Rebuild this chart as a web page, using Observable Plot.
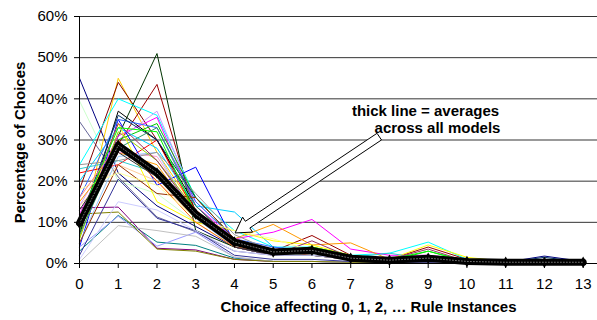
<!DOCTYPE html>
<html><head><meta charset="utf-8">
<script src="https://cdn.jsdelivr.net/npm/d3@7"></script>
<script src="https://cdn.jsdelivr.net/npm/@observablehq/plot@0.6"></script>
<style>html,body{margin:0;padding:0;background:#fff}svg{display:block}</style>
</head><body><div id="chart"></div>
<script>
const choices = [0, 1, 2, 3, 4, 5, 6, 7, 8, 9, 10, 11, 12, 13];
const percentTicks = [0, 10, 20, 30, 40, 50, 60];
const yLabel = "Percentage of Choices";
const xLabel = "Choice affecting 0, 1, 2, \u2026 Rule Instances";

// percentage of choices per model (thin lines)
const series01 = [45, 22, 14, 9, 4, 2, 2, 1, 0.5, 0.8, 0.3, 0.3, 1.8, 0.5];
const series02 = [39.5, 20, 17, 10, 4, 2.5, 2, 1, 0.5, 0.5, 0.3, 0.2, 0.2, 0.2];
const series03 = [34.5, 21, 11.3, 7.7, 3, 2, 2, 1, 0.5, 0.5, 0.2, 0.2, 0.2, 0.2];
const series04 = [6, 45, 27, 13, 5, 3, 3, 1.5, 0.8, 1.5, 0.5, 0.3, 0.2, 0.2];
const series05 = [18, 44, 30, 13, 4, 2, 3, 1, 0.5, 1, 0.5, 0.3, 0.3, 0.3];
const series06 = [8, 29, 43.5, 12, 5, 3, 6.8, 2, 1, 4, 1, 0.5, 0.3, 0.5];
const series07 = [9, 31, 51, 8, 4, 2, 3, 1, 0.5, 1, 0.3, 0.2, 0.2, 0.2];
const series08 = [24, 40, 36, 16, 8, 4, 4, 2, 2.5, 5.2, 1, 0.5, 0.3, 0.3];
const series09 = [12, 31, 35.5, 14, 6, 7.6, 10.7, 3.5, 2, 2, 1, 0.5, 0.3, 0.3];
const series10 = [14, 30, 37, 15, 6, 3, 3, 1, 0.5, 1, 0.3, 0.2, 0.2, 0.2];
const series11 = [8, 30, 34, 16, 6, 3, 4, 1, 0.5, 3, 0.5, 0.3, 0.2, 0.2];
const series12 = [22, 24, 30, 12, 5, 2, 3, 1.5, 0.5, 1, 0.3, 0.2, 0.2, 0.2];
const series13 = [4, 35, 19, 23.4, 5, 3, 3.5, 1, 0.5, 1, 0.5, 0.3, 0.2, 0.2];
const series14 = [7, 37, 30, 14, 5, 3, 3, 1, 0.5, 1, 0.3, 0.2, 0.2, 0.2];
const series15 = [3, 11.7, 5.2, 4.4, 1.3, 0.5, 0.5, 0.3, 0.2, 0.2, 0.1, 0.1, 0.1, 0.1];
const series16 = [13.5, 13.7, 3.7, 3.3, 1, 0.5, 0.5, 0.3, 0.2, 0.2, 0.1, 0.1, 0.1, 0.1];
const series17 = [4, 11.5, 4.2, 7.6, 1.5, 0.5, 0.5, 0.3, 0.2, 0.2, 0.1, 0.1, 0.1, 0.1];
const series18 = [0.3, 9.2, 8, 6.6, 1.6, 0.5, 0.5, 0.3, 0.2, 0.2, 0.1, 0.1, 0.1, 0.1];
const series19 = [12, 12.5, 3.5, 3, 1, 0.5, 0.5, 0.3, 0.2, 0.2, 0.1, 0.1, 0.1, 0.1];
const series20 = [2, 20.5, 11, 8, 2, 1, 1, 0.5, 0.3, 0.3, 0.1, 0.1, 0.1, 0.1];
const series21 = [20, 33, 28, 14, 12.5, 4, 3, 1.5, 1, 1, 0.5, 0.3, 0.3, 0.3];
const series22 = [15, 27, 24, 11, 6, 9.5, 4.5, 5, 1, 1.5, 0.5, 0.3, 0.2, 0.2];
const series23 = [9, 34, 15, 10, 8, 5.5, 4.5, 2, 1, 4.5, 1.5, 0.5, 0.3, 0.3];
const series24 = [11, 27, 26, 12, 5, 3, 3, 1.5, 1, 1, 0.5, 0.3, 0.3, 0.3];
const series25 = [14, 24, 20, 11, 5, 3, 3.5, 1.5, 1, 1, 0.5, 0.3, 0.2, 0.2];
const series26 = [5, 26, 27, 11, 4, 2, 3, 1, 0.5, 1, 0.3, 0.2, 0.2, 0.2];
const series27 = [16, 35, 33, 15, 6, 4, 3, 1, 0.5, 1, 0.3, 0.3, 0.5, 0.3];
const series28 = [23, 25, 22, 12, 6, 3, 2, 1.5, 2.5, 1, 0.5, 0.3, 0.2, 0.2];
const series29 = [6, 32, 25, 13, 5, 3, 3, 1, 0.5, 1.5, 0.3, 0.2, 0.2, 0.2];
const series30 = [9, 30, 20, 10, 4, 3, 4, 2, 1, 1, 0.5, 0.3, 0.2, 0.2];
const series31 = [24, 25, 27, 17, 7, 3, 3, 1, 0.5, 0.5, 0.3, 0.2, 0.2, 0.2];
const series32 = [10, 36, 30, 16, 6, 3, 3, 1, 0.5, 1, 0.3, 0.2, 1.5, 0.3];
const series33 = [7, 28, 33, 14, 5, 3, 3, 1, 0.5, 2, 0.3, 0.2, 0.2, 0.2];
const series34 = [10, 34, 25, 12, 4, 2, 5.5, 1.5, 1, 3.5, 0.5, 0.3, 0.3, 0.3];
const series35 = [5, 24, 17, 16, 6, 3, 2, 1, 0.5, 1, 0.3, 0.2, 0.2, 0.2];
const series36 = [18, 22, 19, 11, 8, 6, 3, 1.5, 0.5, 0.5, 0.3, 0.2, 0.2, 0.2];
const series37 = [11, 33, 32, 12, 5, 3, 4, 2, 1, 3, 0.5, 0.3, 0.2, 0.2];
const series38 = [13, 27, 21, 13, 4, 2, 2, 1, 0.5, 0.5, 0.2, 0.2, 0.2, 0.2];
const series39 = [1, 15, 13, 8, 3, 2, 2, 1, 0.5, 0.5, 0.2, 0.2, 0.2, 0.2];
const series40 = [16, 29, 22, 13, 6, 3, 3, 1, 0.5, 1, 0.3, 0.2, 0.2, 0.2];

const modelColors = [
  "#000080", "#CCFFCC", "#666699", "#FFCC00", "#800000", "#990000", "#003300", "#00FFFF",
  "#FF00FF", "#CC99FF", "#00CC00", "#FF0000", "#0000FF", "#000000", "#008080", "#800080",
  "#9999FF", "#C0C0C0", "#808000", "#333399", "#00CCFF", "#FF9900", "#FFFF00", "#FF99CC",
  "#FFCC99", "#99CCFF", "#3366FF", "#33CCCC", "#99CC00", "#FF6600", "#969696", "#003366",
  "#339966", "#993366", "#993300", "#FFFF99", "#00FF00", "#333333", "#CCCCFF", "#FF8080"
];

// thick line: averages across all models
const averages = [9.8, 28.7, 22, 12, 5.2, 2.8, 3.2, 1.3, 0.8, 1.3, 0.5, 0.3, 0.3, 0.3];

const annotationLines = ["thick line = averages", "across all models"];
const annotationX = [8.93, 9.24];
const annotationY = [37.0, 32.9];
const arrowFrom = [7.75, 30.7];
const arrowTo = [4.03, 7.3];

const models = [series01, series02, series03, series04, series05, series06, series07, series08,
  series09, series10, series11, series12, series13, series14, series15, series16, series17,
  series18, series19, series20, series21, series22, series23, series24, series25, series26,
  series27, series28, series29, series30, series31, series32, series33, series34, series35,
  series36, series37, series38, series39, series40];

const font = "'Liberation Sans', Arial, sans-serif";

function blockArrow(index, scales) {
  const x1 = scales.x(arrowFrom[0]), y1 = scales.y(arrowFrom[1]);
  const x2 = scales.x(arrowTo[0]), y2 = scales.y(arrowTo[1]);
  const dx = x2 - x1, dy = y2 - y1, L = Math.hypot(dx, dy);
  const ux = dx / L, uy = dy / L, px = -uy, py = ux;
  const hw = 4, headL = 15, headW = 9;
  const bx = x2 - ux * headL, by = y2 - uy * headL;
  const pts = [
    [x1 + px * hw, y1 + py * hw], [bx + px * hw, by + py * hw], [bx + px * headW, by + py * headW],
    [x2, y2], [bx - px * headW, by - py * headW], [bx - px * hw, by - py * hw], [x1 - px * hw, y1 - py * hw]
  ];
  return d3.create("svg:path")
    .attr("d", "M" + pts.map(p => p.join(",")).join("L") + "Z")
    .attr("fill", "white").attr("stroke", "black").attr("stroke-width", 1)
    .node();
}

const chart = Plot.plot({
  width: 597,
  height: 320,
  marginLeft: 79,
  marginRight: 0,
  marginTop: 16,
  marginBottom: 57,
  style: {fontFamily: font, background: "white"},
  x: {domain: [0, 13.37]},
  y: {domain: [0, 60]},
  marks: [
    Plot.ruleY(percentTicks.filter(d => d > 0), {stroke: "#000", strokeOpacity: 0.8, strokeWidth: 1}),
    ...models.map((vals, i) => Plot.line(vals, {
      x: (d, j) => choices[j], y: d => d, stroke: modelColors[i], strokeWidth: 1
    })),
    Plot.line(averages, {x: (d, j) => choices[j], y: d => d, stroke: "#000", strokeWidth: 7, strokeLinejoin: "round"}),
    Plot.dot(averages, {x: (d, j) => choices[j], y: d => d, symbol: "diamond", r: 3.5, fill: "#000", stroke: "none"}),
    Plot.line(averages, {x: (d, j) => choices[j], y: d => d, stroke: "#bbb", strokeWidth: 1, strokeDasharray: "1,2", strokeOpacity: 0.6}),
    Plot.ruleY([0], {stroke: "#000", strokeWidth: 1}),
    Plot.ruleX([0], {stroke: "#000", strokeWidth: 1}),
    Plot.axisY({ticks: percentTicks, tickFormat: d => d + "%", tickSize: 5, tickPadding: 7, fontSize: 15, label: null, stroke: "#000"}),
    Plot.axisX({ticks: choices, tickFormat: d => String(d), tickSize: 5, tickPadding: 10, fontSize: 15, label: null, stroke: "#000"}),
    Plot.text([yLabel], {frameAnchor: "left", dx: -59.5, dy: 2.5, rotate: -90, textAnchor: "middle", text: d => d, fontSize: 15, fontWeight: "bold", fill: "#000"}),
    Plot.text([xLabel], {frameAnchor: "bottom", dx: 30, dy: 48, text: d => d, fontSize: 15, fontWeight: "bold", fill: "#000"}),
    Plot.text(annotationLines, {x: (d, i) => annotationX[i], y: (d, i) => annotationY[i], text: d => d, fontSize: 15, fontWeight: "bold", fill: "#000", textAnchor: "middle"}),
    blockArrow
  ]
});

document.getElementById("chart").appendChild(chart);
</script>
</body></html>
